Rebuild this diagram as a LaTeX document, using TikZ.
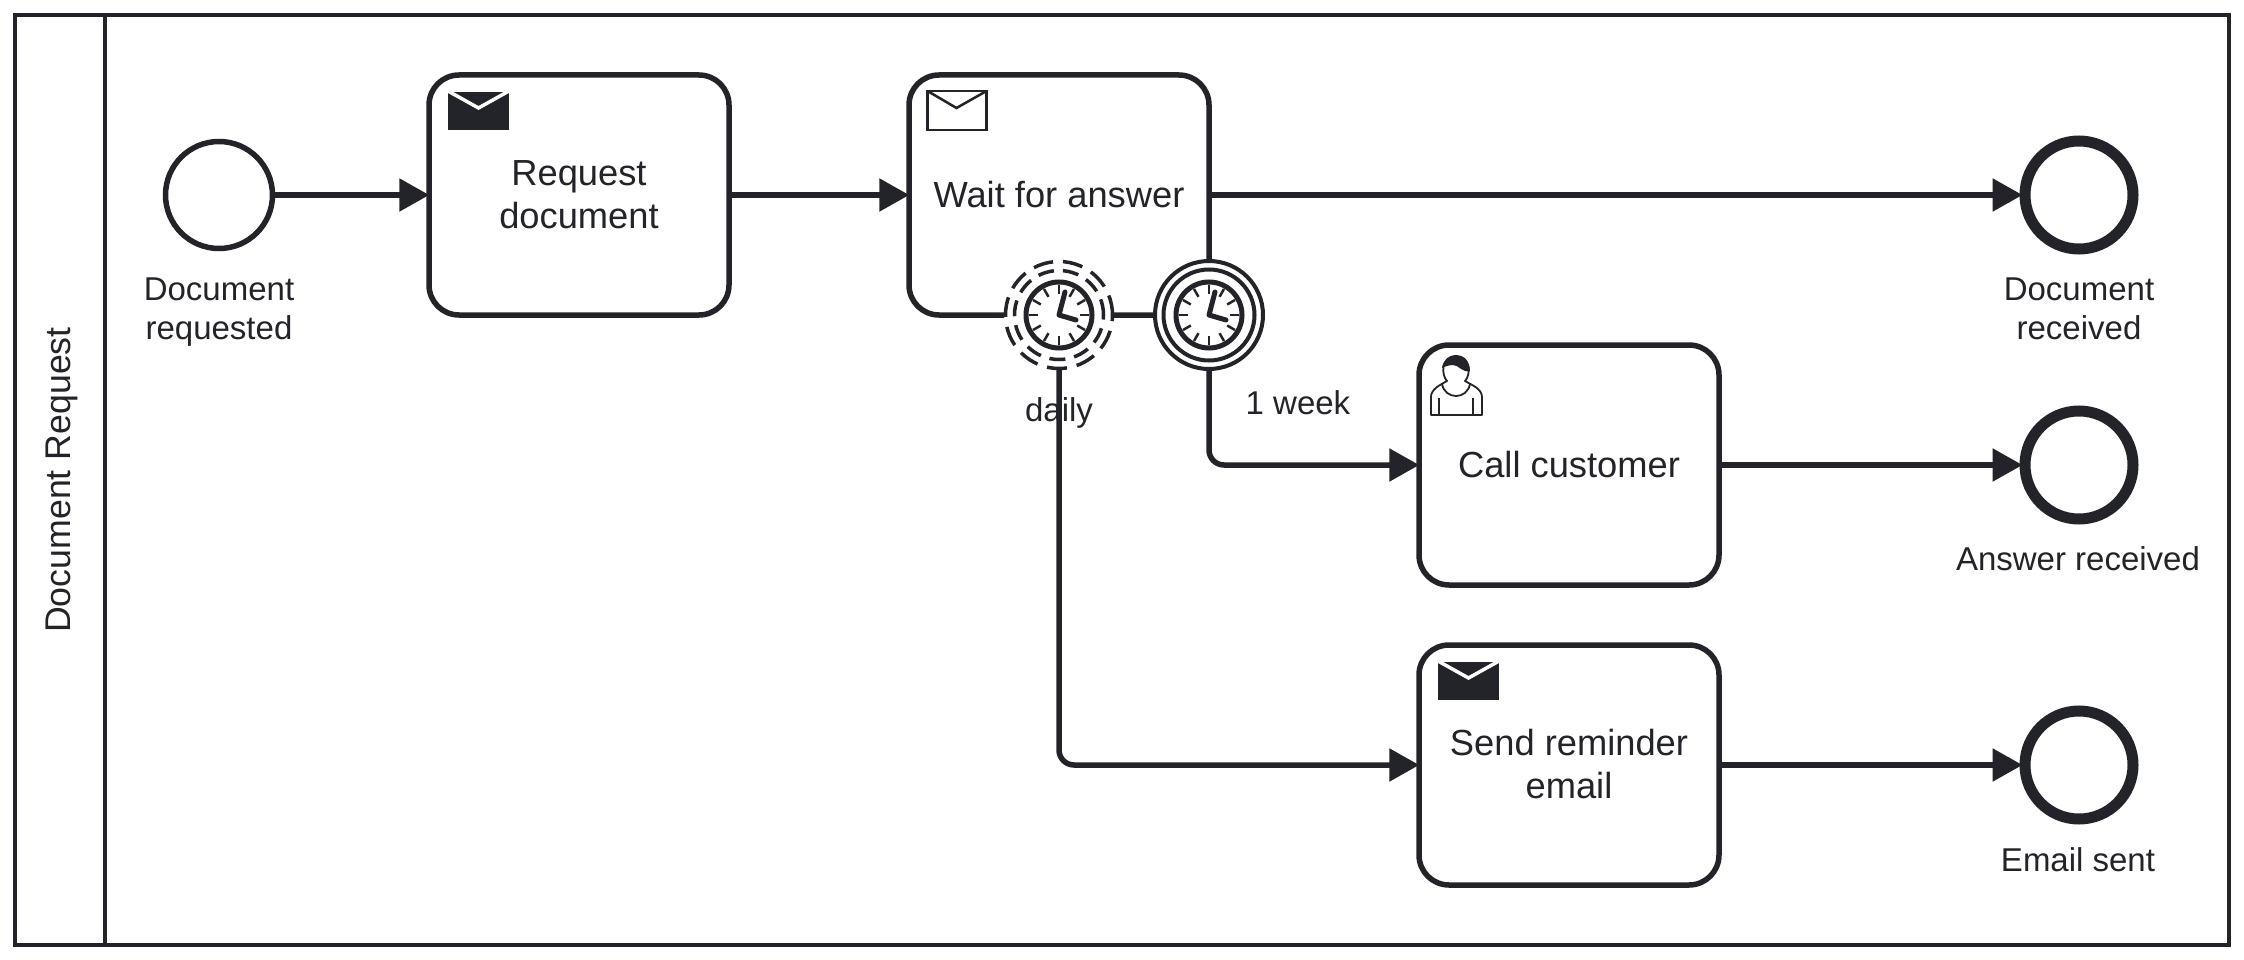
\documentclass[tikz,border=0pt]{standalone}
\usepackage{fontspec}
\setmainfont{Liberation Sans}
\usetikzlibrary{arrows.meta}
\definecolor{ink}{HTML}{22242A}
\newcommand\tasktext[1]{\raisebox{0pt}[\dimexpr\height+7pt\relax][\depth]{\begin{tabular}{@{}c@{}}#1\end{tabular}}}
\tikzset{
  every node/.style={text=ink},
  big/.style={font=\fontsize{36.3}{43}\selectfont,align=center,inner sep=0pt},
  small/.style={font=\fontsize{33}{38.5}\selectfont,align=center,inner sep=0pt},
  poolbox/.style={draw=ink,line width=4.5pt,fill=white,minimum width=2214pt,minimum height=930pt,inner sep=0pt,outer sep=0pt},
  taskbox/.style={draw=ink,line width=5.5pt,fill=white,rounded corners=30pt,minimum width=300pt,minimum height=240pt,inner sep=0pt,big},
  startev/.style={circle,draw=ink,line width=5.5pt,fill=white,minimum size=107pt,inner sep=0pt},
  endev/.style={circle,draw=ink,line width=11pt,fill=white,minimum size=108pt,inner sep=0pt},
  timerev/.style={circle,minimum size=110pt,inner sep=0pt,outer sep=0pt,fill=white},
  flow/.style={draw=ink,line width=5.5pt,rounded corners=15pt,shorten >=-3pt,-{Triangle[length=30pt,width=32pt]}},
  clockface/.pic={
    \draw[ink,line width=5pt,fill=white] (0,0) circle (33pt);
    \foreach \a in {0,30,...,330}{\draw[ink,line width=2.5pt] (\a:21pt) -- (\a:30pt);}
    \draw[ink,line width=5pt,line cap=round,line join=round] (6pt,23pt) -- (0,0) -- (17pt,-5pt);
  },
  envfull/.pic={
    \fill[ink] (0,0) rectangle (61pt,-38pt);
    \draw[white,line width=3.5pt] (0,1pt) -- (30.5pt,-16pt) -- (61pt,1pt);
  },
  envopen/.pic={
    \draw[ink,line width=2.5pt,fill=white,line join=miter] (0,0) rectangle (59pt,-39pt);
    \draw[ink,line width=2.5pt] (0,0) -- (29pt,-17pt) -- (59pt,0);
  },
  userface/.pic={
    \begin{scope}[x=1pt,y=-1pt]
      \draw[ink,line width=1.8pt,fill=white,line join=round]
        (-25,46) -- (26,46) -- (26,28)
        .. controls (26,20) and (16,16) .. (9,12)
        .. controls (15,6) and (15,-13) .. (0,-13)
        .. controls (-15,-13) and (-15,6) .. (-9,12)
        .. controls (-16,16) and (-25,20) .. (-25,28) -- cycle;
      \fill[ink] (-14,-1) .. controls (-13,-9) and (-7,-13) .. (0,-13)
        .. controls (8,-13) and (13.5,-8) .. (14,2)
        .. controls (6,4) and (3,-4) .. (-3,-4)
        .. controls (-6,-4) and (-10,-3) .. (-14,-1) -- cycle;
      \draw[ink,line width=1.8pt] (-14,15) .. controls (-11,31) and (11,31) .. (14,15);
      \draw[ink,line width=2pt] (-16.7,29) -- (-16.7,46) (16.7,29) -- (16.7,46);
    \end{scope}
  }
}
\begin{document}
\begin{tikzpicture}[x=1pt,y=-1pt]
\useasboundingbox (0,0) rectangle (2244,960);
\fill[white] (0,0) rectangle (2244,960);
% pool
\node[poolbox] (pool) at (1122,480) {};
\node[inner sep=0pt] (laneTop) at (105,15) {};
\node[inner sep=0pt] (laneBot) at (105,945) {};
\draw[ink,line width=4.5pt] (laneTop.center) -- (laneBot.center);
\node[big,rotate=90,font=\fontsize{35.7}{43}\selectfont] (lane) at (62,480) {Document Request};
% events and tasks
\node[startev] (start) at (219,195) {};
\node[small] (startL) at (219,312) {Document\\requested};
\node[taskbox] (req) at (579,195) {\tasktext{Request\\document}};
\node[taskbox] (wait) at (1059,195) {\tasktext{Wait for answer}};
\node[taskbox] (call) at (1569,465) {\tasktext{Call customer}};
\node[taskbox] (send) at (1569,765) {\tasktext{Send reminder\\email}};
\node[endev] (end1) at (2079,195) {};
\node[endev] (end2) at (2079,465) {};
\node[endev] (end3) at (2079,765) {};
\node[small] (end1L) at (2079,309) {Document\\received};
\node[small] (end2L) at (2078,559) {Answer received};
\node[small] (end3L) at (2078,860) {Email sent};
% task markers
\pic at (448,92) {envfull};
\pic at (927.5,91) {envopen};
\pic at (1438,662) {envfull};
\pic at (1456,369) {userface};
% connectors
\draw[flow] (start) -- (req);
\draw[flow] (req) -- (wait);
\draw[flow] (wait.east) -- (end1);
\draw[flow] (call) -- (end2);
\draw[flow] (send) -- (end3);
% boundary events
\node[timerev] (timerA) at (1059,315) {};
\node[timerev] (timerB) at (1209,315) {};
\draw[ink,line width=3.5pt,dash pattern=on 20pt off 10pt] (timerA.center) circle (53.5pt);
\draw[ink,line width=3.5pt,dash pattern=on 16pt off 9pt] (timerA.center) circle (44.5pt);
\pic at (timerA.center) {clockface};
\draw[ink,line width=4pt] (timerB.center) circle (54pt);
\draw[ink,line width=4pt] (timerB.center) circle (45.5pt);
\pic at (timerB.center) {clockface};
\draw[flow] (timerA.south) |- (send.west);
\draw[flow] (timerB.south) |- (call.west);
\node[small] (dailyL) at (1059,413) {daily};
\node[small] (weekL) at (1298,403) {1 week};
\end{tikzpicture}
\end{document}
